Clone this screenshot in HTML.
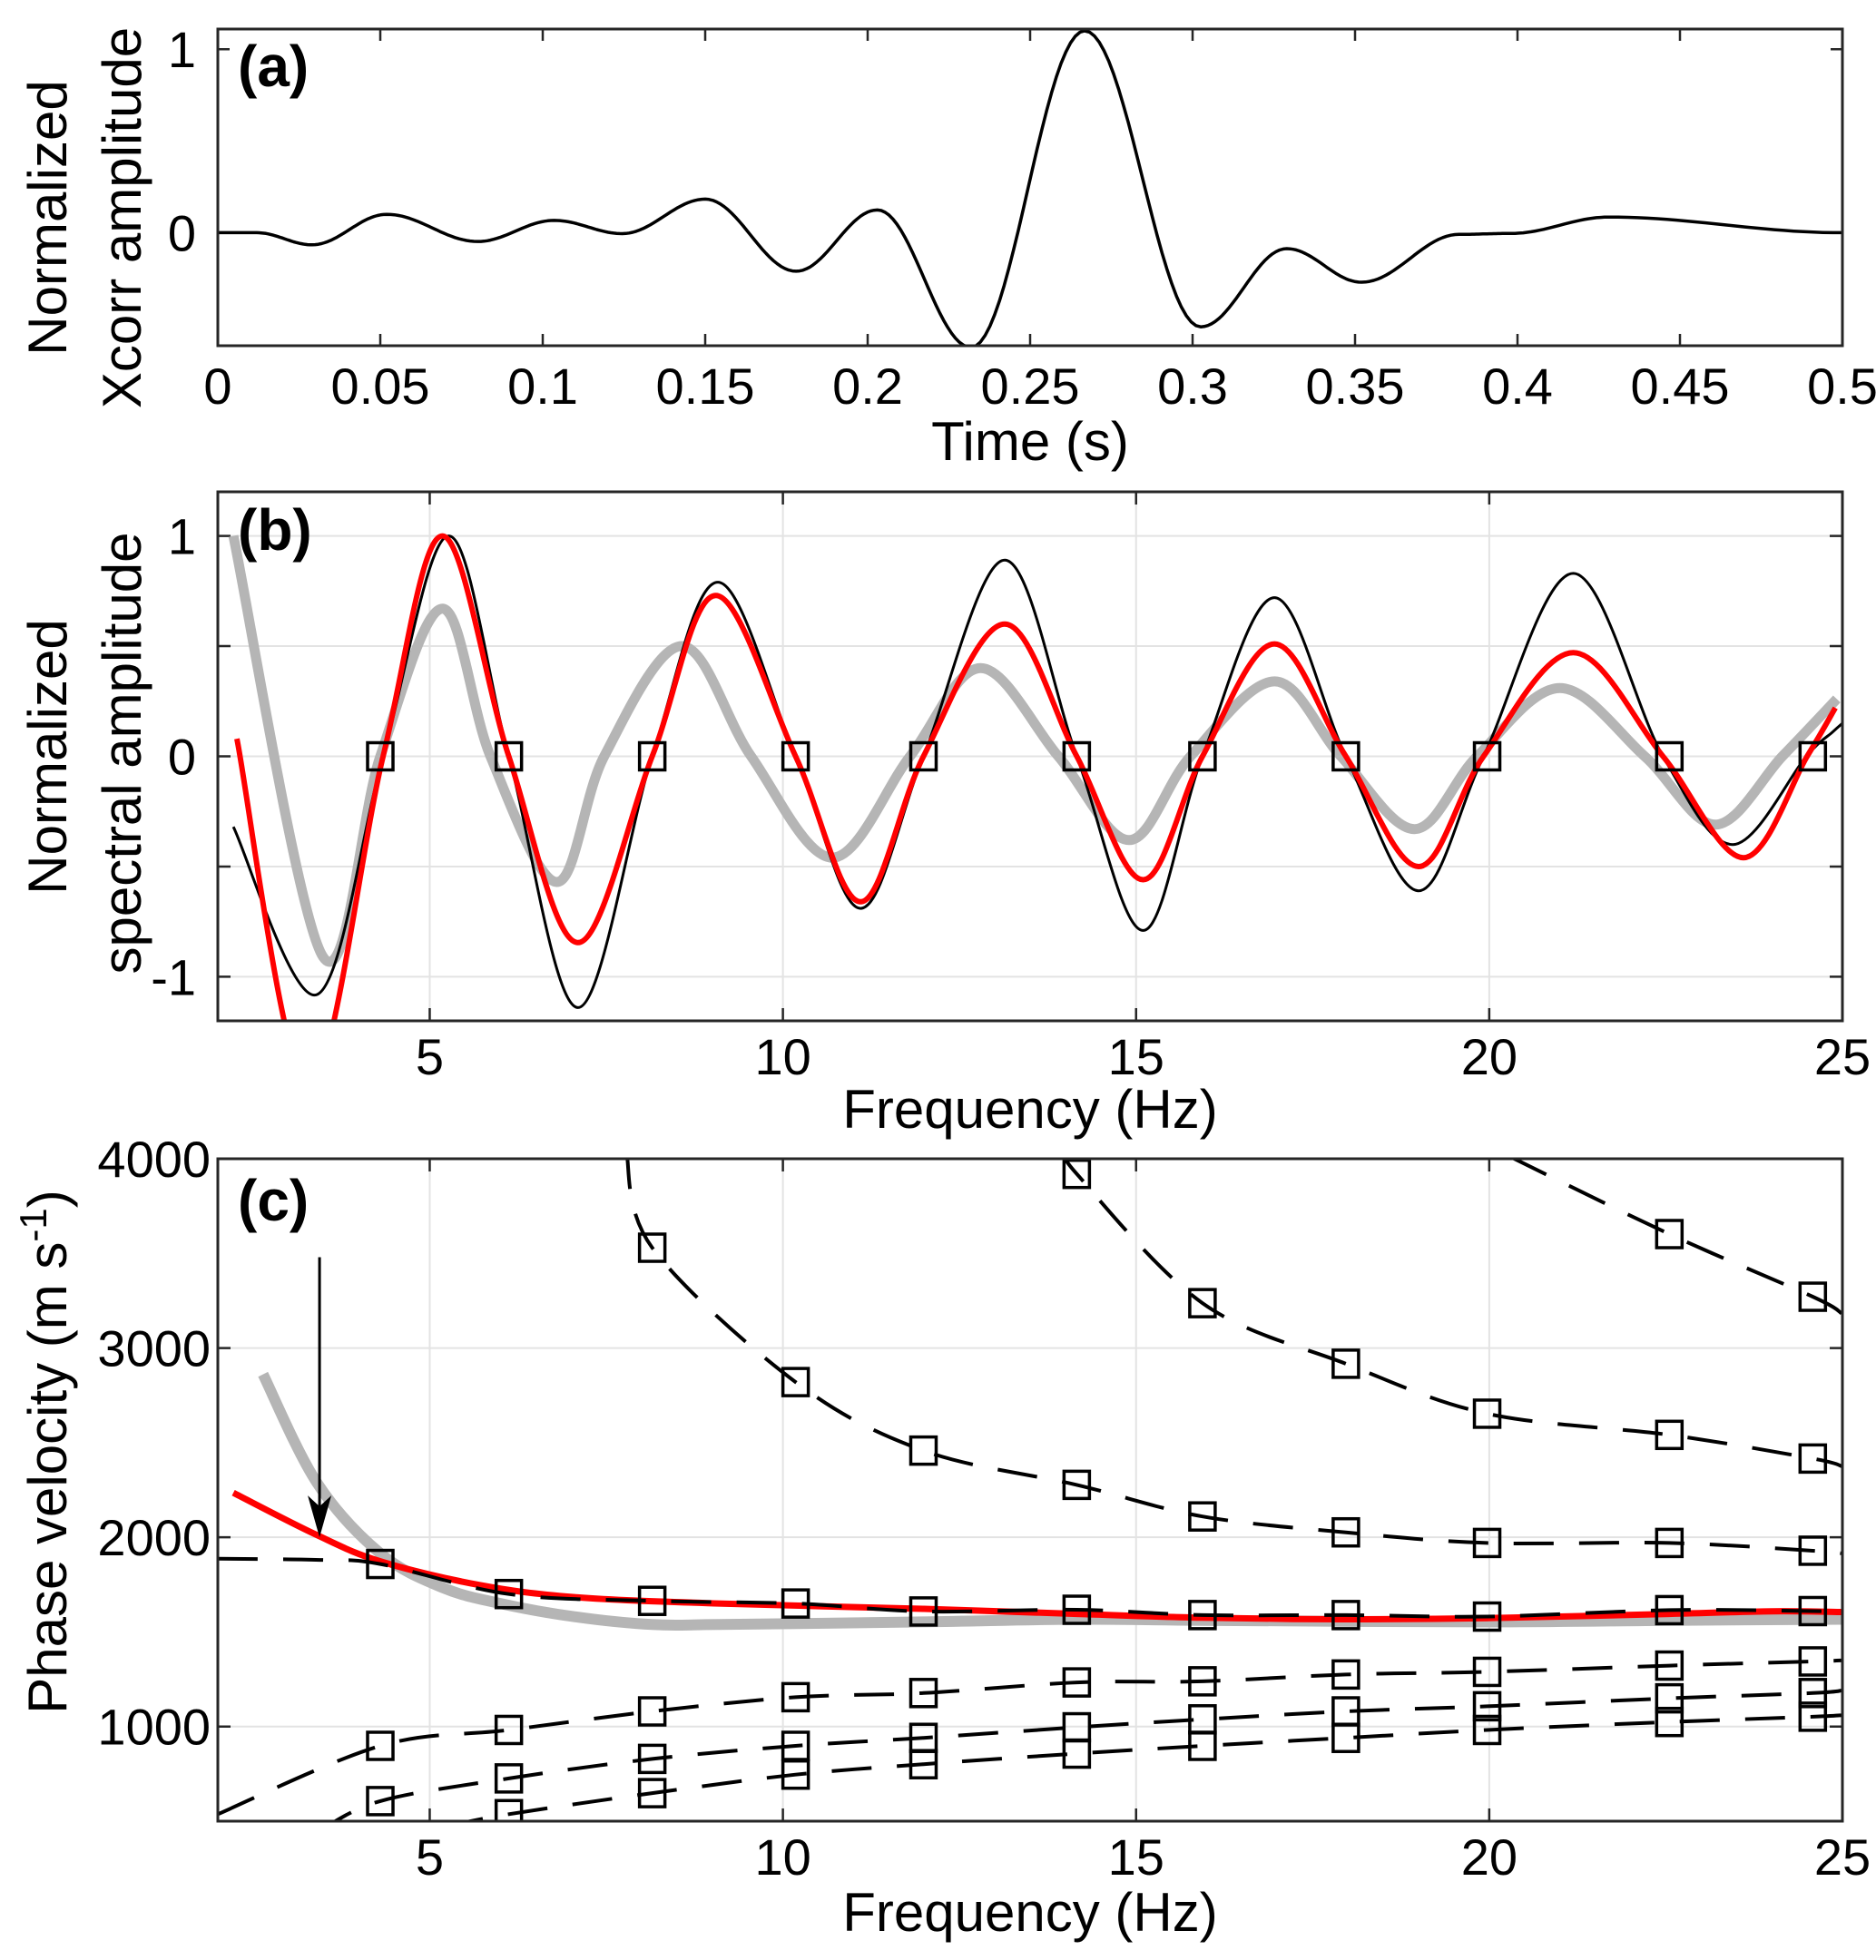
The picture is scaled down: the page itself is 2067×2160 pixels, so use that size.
<!DOCTYPE html>
<html><head><meta charset="utf-8"><style>
html,body{margin:0;padding:0;background:#fff;}
svg{display:block;font-family:"Liberation Sans",sans-serif;}
</style></head><body>
<svg id="fig" width="2067" height="2160" viewBox="0 0 2067 2160" xmlns="http://www.w3.org/2000/svg">
<defs>
<clipPath id="clipA"><rect x="240" y="32" width="1790" height="349"/></clipPath>
<clipPath id="clipB"><rect x="240" y="542" width="1790" height="583"/></clipPath>
<clipPath id="clipC"><rect x="240" y="1277" width="1790" height="730"/></clipPath>
</defs>
<g id="layer"></g>
</svg>
<script>
// ---------- Panel (a) data (extrema of the xcorr trace) ----------
const aTime = [0,0.012,0.029,0.052,0.08,0.1035,0.1245,0.150,0.178,0.203,0.2318,0.2668,0.3025,0.329,0.352,0.382,0.398,0.428,0.5];
const aValue = [0,0,-0.066,0.10,-0.048,0.067,-0.005,0.183,-0.21,0.124,-0.625,1.1,-0.513,-0.087,-0.27,-0.009,-0.004,0.085,0];
const aXTicks = [0,0.05,0.1,0.15,0.2,0.25,0.3,0.35,0.4,0.45,0.5];
const aXTickLabels = ["0","0.05","0.1","0.15","0.2","0.25","0.3","0.35","0.4","0.45","0.5"];
const aYTicks = [0,1];
const aYTickLabels = ["0","1"];

// ---------- Panel (b) data ----------
const bBlackFreq = [2.22,3.41,4.34,5.27,6.12,7.1,8.15,9.08,10.18,11.1,11.99,13.14,14.16,15.1,15.94,16.96,17.97,19.0,19.92,21.19,22.46,23.45,24.49,24.86,25];
const bBlackVal  = [-0.32,-1.08,0,1.0,0,-1.14,0,0.79,0,-0.69,0,0.89,0,-0.79,0,0.72,0,-0.61,0,0.83,0,-0.4,0,0.11,0.15];
const bRedFreq = [2.27,3.28,4.34,5.18,6.12,7.1,8.15,9.05,10.18,11.1,11.99,13.14,14.16,15.1,15.94,16.96,17.97,19.0,19.92,21.19,22.46,23.6,24.5,24.9];
const bRedVal  = [0.08,-1.5,0,1.0,0,-0.845,0,0.73,0,-0.66,0,0.6,0,-0.56,0,0.51,0,-0.5,0,0.47,0,-0.46,0,0.22];
const bGrayFreq = [2.22,3.49,4.3,5.18,5.86,6.8,7.47,8.57,9.55,10.7,11.8,12.8,13.9,14.9,15.77,16.96,17.9,18.94,19.83,21.0,22.2,23.2,24.15,24.92];
const bGrayVal  = [1.0,-0.91,0,0.67,0,-0.57,0,0.5,0,-0.46,0,0.4,0,-0.38,0,0.34,0,-0.33,0,0.31,0,-0.31,0,0.26];
const bSquareFreq = [4.30,6.12,8.15,10.18,11.99,14.16,15.94,17.97,19.97,22.55,24.58];
const bYTicks = [-1,-0.5,0,0.5,1];
const bYTickLabels = ["-1","","0","","1"];
const fTicks = [5,10,15,20,25];
const fTickLabels = ["5","10","15","20","25"];

// ---------- Panel (c) data ----------
const cSqFreq = [4.30,6.12,8.15,10.18,11.99,14.16,15.94,17.97,19.97,22.55,24.58];
const cMode1Freq = [2,3.5,4.3,6.12,8.15,10.18,11.99,14.16,15.94,17.97,19.97,22.55,24.58,25];
const cMode1Val  = [1887,1880,1859,1700,1664,1650,1608,1617,1589,1589,1581,1615,1610,1608];
const cMode2Freq = [7.78,8.15,10.18,11.99,14.16,15.94,17.97,19.97,22.55,24.58,25];
const cMode2Val  = [4050,3530,2820,2458,2277,2110,2026,1970,1970,1929,1915];
const cMode3Freq = [14.0,14.16,15.94,17.97,19.97,22.55,24.58,25];
const cMode3Val  = [4050,3920,3237,2917,2653,2541,2416,2374];
const cMode4Freq = [20.3,22.55,24.58,25];
const cMode4Val  = [4010,3602,3271,3180];
const cLow1Freq = [2,4.3,6.12,8.15,10.18,11.99,14.16,15.94,17.97,19.97,22.55,24.58,25];
const cLow1Val  = [537,898,982,1080,1155,1177,1233,1239,1275,1289,1322,1344,1350];
const cLow2Freq = [3.4,4.3,6.12,8.15,10.18,11.99,14.16,15.94,17.97,19.97,22.55,24.58,25];
const cLow2Val  = [440,606,726,829,898,940,996,1038,1080,1107,1149,1177,1191];
const cLow3Freq = [5.2,6.12,8.15,10.18,11.99,14.16,15.94,17.97,19.97,22.55,24.58,25];
const cLow3Val  = [470,537,648,746,801,857,898,940,982,1024,1052,1060];
const cRedFreq = [2.22,3.4,4.3,5.7,7.05,9.08,12,14.16,15.94,17.97,19.97,22.55,24,25];
const cRedVal  = [2235,2012,1873,1748,1684,1650,1622,1595,1575,1567,1573,1595,1609,1605];
const cGrayFreq = [2.64,3.4,4.3,5.18,6.0,7.05,8.15,9.1,12,14.16,15.94,19.97,22.55,25];
const cGrayVal  = [2861,2290,1915,1734,1650,1580,1539,1539,1553,1567,1561,1553,1561,1567];
const cYTicks = [1000,2000,3000,4000];
const cYTickLabels = ["1000","2000","3000","4000"];
const arrowFreq = 3.44;
const arrowFromVal = 3480;
const arrowToVal = 2000;

// ---------- axes ----------
const L = 240, R = 2030;
const xA = t => L + (t - 0) / 0.5 * (R - L);
const yA = v => 381 - (v - (-0.616)) / (1.11 + 0.616) * 349;
const xF = f => L + (f - 2) / 23 * (R - L);
const yB = v => 1125 - (v + 1.2) / 2.4 * 583;
const yC = v => 2007 - (v - 500) / 3500 * 730;

const NS = "http://www.w3.org/2000/svg";
const layer = document.getElementById("layer");
function mk(tag, attrs, parent) {
  const e = document.createElementNS(NS, tag);
  for (const k in attrs) e.setAttribute(k, attrs[k]);
  (parent || layer).appendChild(e);
  return e;
}
function spline(xs, ys) {
  const p = xs.map((x, i) => [x, ys[i]]);
  let d = "M" + p[0][0].toFixed(1) + "," + p[0][1].toFixed(1);
  for (let i = 0; i < p.length - 1; i++) {
    const p0 = p[i - 1] || p[i], p1 = p[i], p2 = p[i + 1], p3 = p[i + 2] || p2;
    const c1 = [p1[0] + (p2[0] - p0[0]) / 6, p1[1] + (p2[1] - p0[1]) / 6];
    const c2 = [p2[0] - (p3[0] - p1[0]) / 6, p2[1] - (p3[1] - p1[1]) / 6];
    d += "C" + c1.map(v => v.toFixed(1)).join(",") + " " + c2.map(v => v.toFixed(1)).join(",") + " " + p2[0].toFixed(1) + "," + p2[1].toFixed(1);
  }
  return d;
}
// half-cosine interpolation between consecutive extrema (smooth oscillation)
function cosPath(ts, vs, fx, fy) {
  let d = "M" + fx(ts[0]).toFixed(1) + "," + fy(vs[0]).toFixed(1);
  for (let i = 0; i < ts.length - 1; i++) {
    for (let k = 1; k <= 24; k++) {
      const u = k / 24;
      const t = ts[i] + (ts[i + 1] - ts[i]) * u;
      const w = (1 - Math.cos(Math.PI * u)) / 2;
      const v = vs[i] + (vs[i + 1] - vs[i]) * w;
      d += "L" + fx(t).toFixed(1) + "," + fy(v).toFixed(1);
    }
  }
  return d;
}
function text(str, x, y, size, anchor, parent, extra) {
  const t = mk("text", Object.assign({x: x, y: y, "font-size": size, "text-anchor": anchor, fill: "#000"}, extra || {}), parent);
  t.textContent = str;
  return t;
}

// ================= Panel (a) =================
const gA = mk("g", {});


aXTicks.forEach((t, i) => {
  const tk = mk("path", {d: `M${xA(t)},381v-13M${xA(t)},32v13`, stroke: "#262626", "stroke-width": 2.5}, gA);
  
  
  const lb = text(aXTickLabels[i], xA(t), 445, 56, "middle", gA);
  
  
});
aYTicks.forEach((v, i) => {
  const tk = mk("path", {d: `M240,${yA(v)}h13M2030,${yA(v)}h-13`, stroke: "#262626", "stroke-width": 2.5}, gA);
  
  
  const lb = text(aYTickLabels[i], 216, yA(v) + 20, 56, "end", gA);
  
  
});
const aLine = mk("path", {d: cosPath(aTime, aValue, xA, yA), fill: "none", stroke: "#000", "stroke-width": 3.5, "stroke-linejoin": "round", "clip-path": "url(#clipA)"}, gA);


const aBox = mk("rect", {x: 240, y: 32, width: 1790, height: 349, fill: "none", stroke: "#262626", "stroke-width": 3}, gA);


const aTag = text("(a)", 262, 95, 64, "start", gA, {"font-weight": "bold"});


const aXT = text("Time (s)", 1135, 507, 60, "middle", gA);


const aY1 = text("Normalized", 0, 0, 60, "middle", gA, {transform: "translate(73,240) rotate(-90)"});


const aY2 = text("Xcorr amplitude", 0, 0, 60, "middle", gA, {transform: "translate(155,240) rotate(-90)"});



// ================= Panel (b) =================
const gB = mk("g", {});


fTicks.forEach((f, i) => {
  if (f < 25) {
    const gl = mk("line", {x1: xF(f), x2: xF(f), y1: 542, y2: 1125, stroke: "#e3e3e3", "stroke-width": 2}, gB);
    
    
  }
  const tk = mk("path", {d: `M${xF(f)},1125v-14M${xF(f)},542v14`, stroke: "#262626", "stroke-width": 2.5}, gB);
  
  
  const lb = text(fTickLabels[i], xF(f), 1184, 56, "middle", gB);
  
  
});
bYTicks.forEach((v, i) => {
  const gl = mk("line", {x1: 240, x2: 2030, y1: yB(v), y2: yB(v), stroke: "#e3e3e3", "stroke-width": 2}, gB);
  
  
  const tk = mk("path", {d: `M240,${yB(v)}h14M2030,${yB(v)}h-14`, stroke: "#262626", "stroke-width": 2.5}, gB);
  
  
  if (bYTickLabels[i]) {
    const lb = text(bYTickLabels[i], 216, yB(v) + 20, 56, "end", gB);
    
    
  }
});
const bGray = mk("path", {d: spline(bGrayFreq.map(xF), bGrayVal.map(yB)), fill: "none", stroke: "#b5b5b5", "stroke-width": 11, "clip-path": "url(#clipB)"}, gB);


const bBlack = mk("path", {d: spline(bBlackFreq.map(xF), bBlackVal.map(yB)), fill: "none", stroke: "#000", "stroke-width": 3, "clip-path": "url(#clipB)"}, gB);


const bRed = mk("path", {d: spline(bRedFreq.map(xF), bRedVal.map(yB)), fill: "none", stroke: "#ff0000", "stroke-width": 6, "clip-path": "url(#clipB)"}, gB);


bSquareFreq.forEach(f => {
  const s = mk("rect", {x: xF(f) - 14, y: yB(0) - 15, width: 28, height: 30, fill: "none", stroke: "#000", "stroke-width": 3.5}, gB);
  
  
});
const bBox = mk("rect", {x: 240, y: 542, width: 1790, height: 583, fill: "none", stroke: "#262626", "stroke-width": 3}, gB);


const bTag = text("(b)", 262, 606, 64, "start", gB, {"font-weight": "bold"});


const bXT = text("Frequency (Hz)", 1135, 1243, 60, "middle", gB);


const bY1 = text("Normalized", 0, 0, 60, "middle", gB, {transform: "translate(73,834) rotate(-90)"});


const bY2 = text("spectral amplitude", 0, 0, 60, "middle", gB, {transform: "translate(155,830) rotate(-90)"});



// ================= Panel (c) =================
const gC = mk("g", {});


fTicks.forEach((f, i) => {
  if (f < 25) {
    const gl = mk("line", {x1: xF(f), x2: xF(f), y1: 1277, y2: 2007, stroke: "#e3e3e3", "stroke-width": 2}, gC);
    
    
  }
  const tk = mk("path", {d: `M${xF(f)},2007v-14M${xF(f)},1277v14`, stroke: "#262626", "stroke-width": 2.5}, gC);
  
  
  const lb = text(fTickLabels[i], xF(f), 2066, 56, "middle", gC);
  
  
});
cYTicks.forEach((v, i) => {
  if (v < 4000) {
    const gl = mk("line", {x1: 240, x2: 2030, y1: yC(v), y2: yC(v), stroke: "#e3e3e3", "stroke-width": 2}, gC);
    
    
  }
  const tk = mk("path", {d: `M240,${yC(v)}h14M2030,${yC(v)}h-14`, stroke: "#262626", "stroke-width": 2.5}, gC);
  
  
  const lb = text(cYTickLabels[i], 232, yC(v) + 20, 56, "end", gC);
  
  
});
const cGray = mk("path", {d: spline(cGrayFreq.map(xF), cGrayVal.map(yC)), fill: "none", stroke: "#b5b5b5", "stroke-width": 12, "clip-path": "url(#clipC)"}, gC);


const cRed = mk("path", {d: spline(cRedFreq.map(xF), cRedVal.map(yC)), fill: "none", stroke: "#ff0000", "stroke-width": 7, "clip-path": "url(#clipC)"}, gC);


const modes = [
  ["mode-1", cMode1Freq, cMode1Val], ["mode-2", cMode2Freq, cMode2Val], ["mode-3", cMode3Freq, cMode3Val],
  ["mode-4", cMode4Freq, cMode4Val], ["low-branch-1", cLow1Freq, cLow1Val], ["low-branch-2", cLow2Freq, cLow2Val],
  ["low-branch-3", cLow3Freq, cLow3Val]
];
modes.forEach(m => {
  const ln = mk("path", {d: spline(m[1].map(xF), m[2].map(yC)), fill: "none", stroke: "#000", "stroke-width": 4, "stroke-dasharray": "44 28", "clip-path": "url(#clipC)"}, gC);
  
  
  m[1].forEach((f, j) => {
    if (cSqFreq.indexOf(f) < 0) return;
    const v = m[2][j];
    if (v < 500 || v > 4000) return;
    const s = mk("rect", {x: xF(f) - 14, y: yC(v) - 15, width: 28, height: 30, fill: "none", stroke: "#000", "stroke-width": 3.5, "clip-path": "url(#clipC)"}, gC);
    
    
  });
});
const ax = xF(arrowFreq), ay1 = yC(arrowFromVal), ay2 = yC(arrowToVal);
const arr = mk("line", {x1: ax, x2: ax, y1: ay1, y2: ay2 - 20, stroke: "#000", "stroke-width": 3}, gC);


const ah = mk("path", {d: `M${ax},${ay2}L${ax - 13},${ay2 - 46}L${ax},${ay2 - 34}L${ax + 13},${ay2 - 46}Z`, fill: "#000"}, gC);


const cBox = mk("rect", {x: 240, y: 1277, width: 1790, height: 730, fill: "none", stroke: "#262626", "stroke-width": 3}, gC);


const cTag = text("(c)", 262, 1345, 64, "start", gC, {"font-weight": "bold"});


const cXT = text("Frequency (Hz)", 1135, 2128, 60, "middle", gC);


const cYT = mk("text", {x: 0, y: 0, "font-size": 60, "text-anchor": "middle", fill: "#000", transform: "translate(73,1600) rotate(-90)"}, gC);


cYT.appendChild(document.createTextNode("Phase velocity (m s"));
const sup = mk("tspan", {"font-size": 42, dy: -22}, cYT);
sup.textContent = "-1";
const cl = mk("tspan", {dy: 22}, cYT);
cl.textContent = ")";
</script>
</body></html>
